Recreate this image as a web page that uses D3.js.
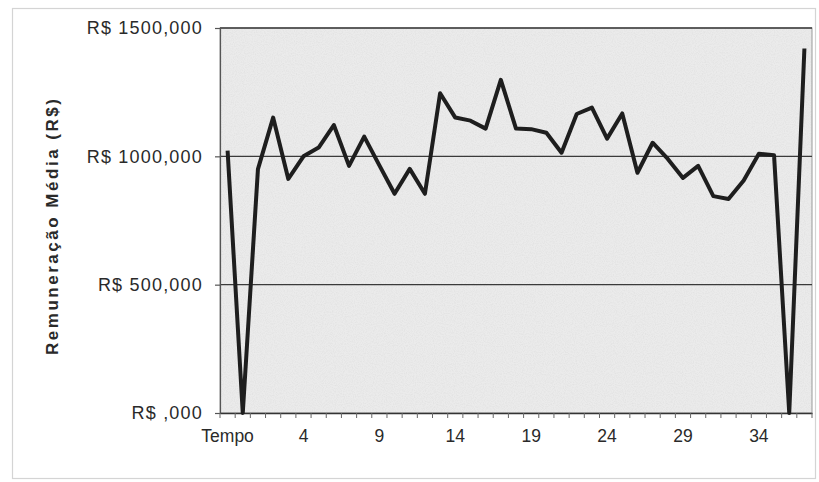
<!DOCTYPE html>
<html>
<head>
<meta charset="utf-8">
<script src="https://cdn.jsdelivr.net/npm/d3@7"></script>
<style>
  html, body { margin: 0; padding: 0; background: #ffffff; }
  svg { display: block; }
</style>
</head>
<body>
<svg id="chart" width="819" height="482"></svg>
<script>
// ---- data ----
const categories = ["Tempo", "0", "1", "2", "3", "4", "5", "6", "7", "8", "9",
  "10", "11", "12", "13", "14", "15", "16", "17", "18", "19",
  "20", "21", "22", "23", "24", "25", "26", "27", "28", "29",
  "30", "31", "32", "33", "34", "35", "36", "37"];
const remuneracao = [1022000, 0, 950000, 1151000, 912000, 1000000, 1034000, 1122000, 963000, 1077000,
  965000, 854000, 951000, 854000, 1246000, 1151000, 1139000, 1108000, 1298000, 1108000,
  1106000, 1092000, 1014000, 1165000, 1190000, 1069000, 1167000, 936000, 1053000, 990000,
  916000, 963000, 845000, 834000, 906000, 1010000, 1004000, 0, 1420000];
const yTickValues = [0, 500000, 1000000, 1500000];
const yTickLabels = ["R$ ,000", "R$ 500,000", "R$ 1000,000", "R$ 1500,000"];
const xLabelStep = 5;
const yTitle = "Remuneração Média (R$)";

// ---- layout ----
const svg = d3.select("#chart");
const plot = { left: 220, right: 812, top: 28, bottom: 413 };
const font = "'Liberation Sans', Arial, sans-serif";

// light grain texture for the scanned look
const defs = svg.append("defs");
const f = defs.append("filter").attr("id", "grain").attr("x", 0).attr("y", 0).attr("width", 1).attr("height", 1);
f.append("feTurbulence").attr("type", "fractalNoise").attr("baseFrequency", 0.9).attr("numOctaves", 2).attr("seed", 3).attr("result", "n");
f.append("feColorMatrix").attr("in", "n").attr("type", "matrix")
  .attr("values", "0 0 0 0 0.6  0 0 0 0 0.6  0 0 0 0 0.6  0 0 0 -0.6 0.38").attr("result", "g");
f.append("feComposite").attr("in", "g").attr("in2", "SourceGraphic").attr("operator", "atop");

// outer chart frame
svg.append("rect").attr("x", 12.5).attr("y", 8.5).attr("width", 803).attr("height", 470)
  .attr("fill", "#ffffff").attr("stroke", "#d4d4d4").attr("stroke-width", 1.2);

const x = d3.scaleBand().domain(categories).range([plot.left, plot.right]).paddingInner(0).paddingOuter(0);
const y = d3.scaleLinear().domain([0, 1500000]).range([plot.bottom, plot.top]);
const cx = d => x(d) + x.bandwidth() / 2;

// plot area
svg.append("rect").attr("x", plot.left).attr("y", plot.top)
  .attr("width", plot.right - plot.left).attr("height", plot.bottom - plot.top)
  .attr("fill", "#ebebeb").attr("filter", "url(#grain)");
svg.append("rect").attr("x", plot.left).attr("y", plot.top)
  .attr("width", plot.right - plot.left).attr("height", plot.bottom - plot.top)
  .attr("fill", "none").attr("stroke", "#999").attr("stroke-width", 1);

// gridlines
svg.append("g").selectAll("line").data(yTickValues.filter(v => v > 0)).join("line")
  .attr("x1", plot.left).attr("x2", plot.right)
  .attr("y1", d => y(d)).attr("y2", d => y(d))
  .attr("stroke", "#3a3a3a").attr("stroke-width", 1.4);

// y axis
const yAxis = d3.axisLeft(y).tickValues(yTickValues)
  .tickFormat((d, i) => yTickLabels[i]).tickSize(5).tickPadding(12);
const gy = svg.append("g").attr("transform", `translate(${plot.left},0)`).call(yAxis);
gy.select(".domain").attr("stroke", "#555").attr("stroke-width", 1.2);
gy.selectAll(".tick line").attr("stroke", "#555").attr("stroke-width", 1.2);
gy.selectAll(".tick text").attr("font-family", font).attr("font-size", 18)
  .attr("letter-spacing", "1.2px").attr("fill", "#2a2a2a");

// x axis
const xAxis = d3.axisBottom(x)
  .tickValues(categories.filter((c, i) => i % xLabelStep === 0))
  .tickSize(0).tickPadding(17);
const gx = svg.append("g").attr("transform", `translate(0,${plot.bottom})`).call(xAxis);
gx.select(".domain").attr("stroke", "#333").attr("stroke-width", 1.6);
gx.selectAll(".tick text").attr("font-family", font).attr("font-size", 17.5)
  .attr("fill", "#2a2a2a");
// boundary tick marks between categories
gx.append("g").selectAll("line").data(categories.concat(["__end"])).join("line")
  .attr("x1", (d, i) => plot.left + i * x.bandwidth())
  .attr("x2", (d, i) => plot.left + i * x.bandwidth())
  .attr("y1", 0).attr("y2", 5)
  .attr("stroke", "#666").attr("stroke-width", 1);

// y title
svg.append("text")
  .attr("transform", `translate(58,${(98 + 356) / 2}) rotate(-90)`)
  .attr("text-anchor", "middle")
  .attr("font-family", font).attr("font-weight", "bold").attr("font-size", 17)
  .attr("textLength", 256).attr("lengthAdjust", "spacing")
  .attr("fill", "#2a2a2a")
  .text(yTitle);

// line
const line = d3.line().x((d, i) => cx(categories[i])).y(d => y(d));
svg.append("path").datum(remuneracao)
  .attr("d", line)
  .attr("fill", "none").attr("stroke", "#1e1e1e").attr("stroke-width", 4)
  .attr("stroke-linejoin", "round").attr("stroke-linecap", "butt");
</script>
</body>
</html>
